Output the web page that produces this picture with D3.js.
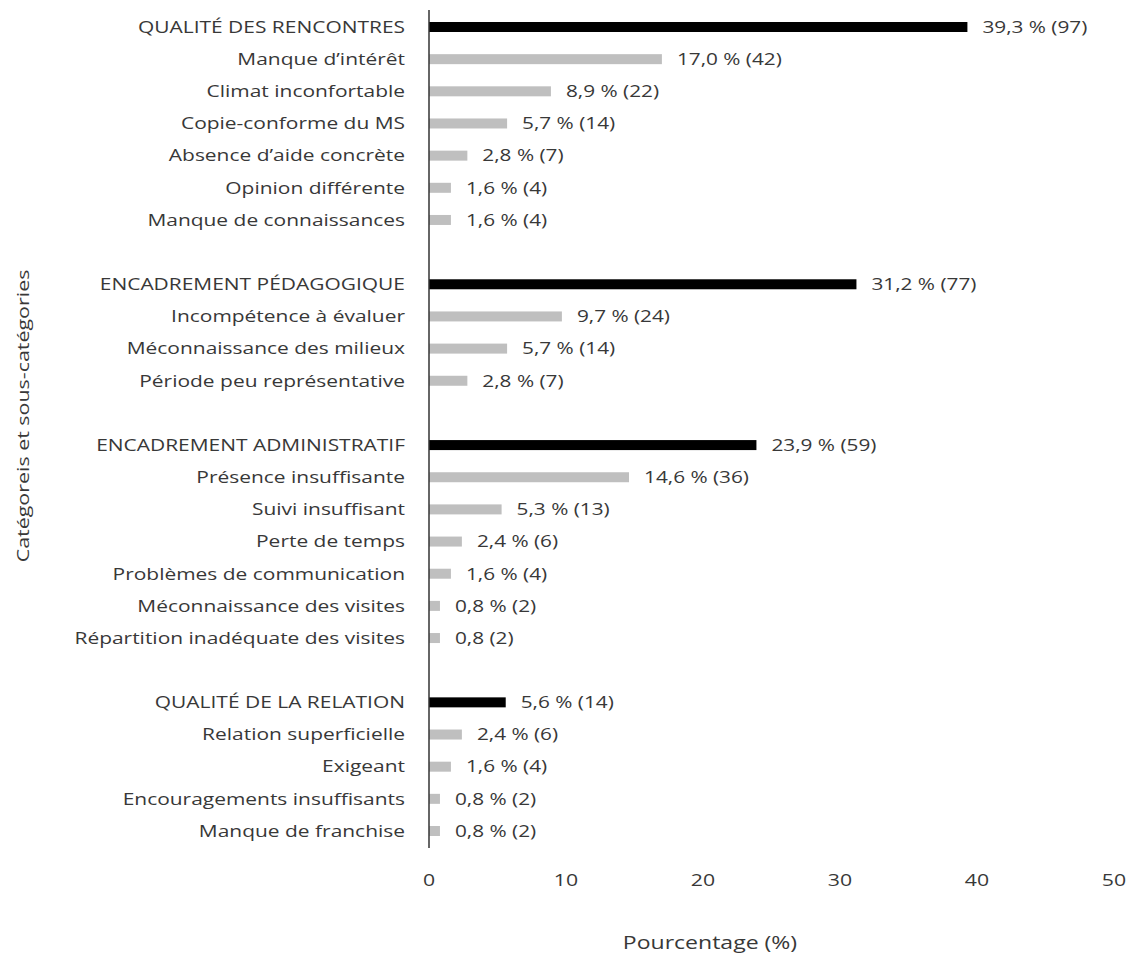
<!DOCTYPE html>
<html><head><meta charset="utf-8">
<script src="https://cdn.jsdelivr.net/npm/d3@7"></script>
<style>body{margin:0;background:#fff}svg{display:block}text{font-family:"Open Sans",sans-serif}</style>
</head><body>
<svg id="c" width="1130" height="954"></svg>
<script>
// rows; "" = spacer row between groups
const categories = [
 "QUALITÉ DES RENCONTRES","Manque d’intérêt","Climat inconfortable","Copie-conforme du MS","Absence d’aide concrète","Opinion différente","Manque de connaissances","",
 "ENCADREMENT PÉDAGOGIQUE","Incompétence à évaluer","Méconnaissance des milieux","Période peu représentative","",
 "ENCADREMENT ADMINISTRATIF","Présence insuffisante","Suivi insuffisant","Perte de temps","Problèmes de communication","Méconnaissance des visites","Répartition inadéquate des visites","",
 "QUALITÉ DE LA RELATION","Relation superficielle","Exigeant","Encouragements insuffisants","Manque de franchise"];
const values = [39.3,17.0,8.9,5.7,2.8,1.6,1.6,null, 31.2,9.7,5.7,2.8,null, 23.9,14.6,5.3,2.4,1.6,0.8,0.8,null, 5.6,2.4,1.6,0.8,0.8];
const valueLabels = ["39,3 % (97)","17,0 % (42)","8,9 % (22)","5,7 % (14)","2,8 % (7)","1,6 % (4)","1,6 % (4)","",
 "31,2 % (77)","9,7 % (24)","5,7 % (14)","2,8 % (7)","",
 "23,9 % (59)","14,6 % (36)","5,3 % (13)","2,4 % (6)","1,6 % (4)","0,8 % (2)","0,8 (2)","",
 "5,6 % (14)","2,4 % (6)","1,6 % (4)","0,8 % (2)","0,8 % (2)"];
const isMain = [1,0,0,0,0,0,0,0, 1,0,0,0,0, 1,0,0,0,0,0,0,0, 1,0,0,0,0];
const xTicks = [0,10,20,30,40,50];
const xTitle = "Pourcentage (%)";
const yTitle = "Catégoreis et sous-catégories";

const svg = d3.select("#c");
const x = d3.scaleLinear().domain([0,50]).range([429,1114]);
const rows = d3.range(categories.length);
const y = d3.scalePoint().domain(rows).range([27,831]);
const txt = "#383838";

function label(g, px, py, s, size, sx, anchor, rot) {
  return g.append("g").attr("transform", `translate(${px},${py})` + (rot ? ` rotate(${rot})` : ""))
    .append("text").attr("transform", `scale(${sx},1)`).attr("dy","0.35em")
    .attr("text-anchor", anchor).attr("font-size", size).attr("fill", txt).text(s);
}

// bars
svg.append("g").selectAll("rect").data(rows.filter(i=>values[i]!=null)).join("rect")
  .attr("x", x(0)).attr("y", i=>y(i)-5).attr("height",10)
  .attr("width", i=>x(values[i])-x(0))
  .attr("fill", i=>isMain[i]?"#000":"#bfbfbf");

// category labels
const gc = svg.append("g");
rows.filter(i=>categories[i]).forEach(i => label(gc, 405, y(i), categories[i], 16.5, 1.27, "end"));

// value labels
const gv = svg.append("g");
rows.filter(i=>values[i]!=null).forEach(i => label(gv, x(values[i])+15, y(i), valueLabels[i], 16.5, 1.26, "start"));

// vertical axis line
svg.append("line").attr("x1",x(0)).attr("x2",x(0)).attr("y1",10).attr("y2",848)
  .attr("stroke","#333").attr("stroke-width",1.5);

// x axis tick labels
const gt = svg.append("g");
xTicks.forEach(t => label(gt, x(t), 880, d3.format("d")(t), 17, 1.25, "middle"));

label(svg, 710, 943, xTitle, 18, 1.28, "middle");
label(svg, 23, 416, yTitle, 17, 1.26, "middle", -90);
</script>
</body></html>
